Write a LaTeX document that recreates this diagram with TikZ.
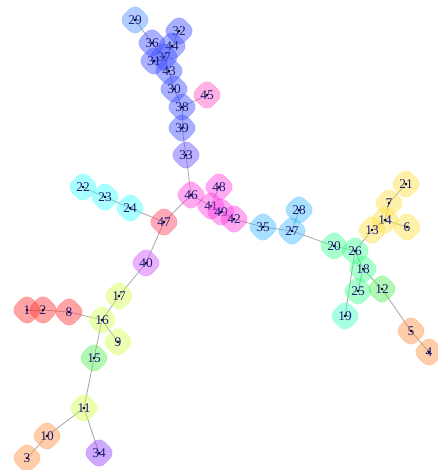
\documentclass[tikz,border=0pt]{standalone}
\usepackage{fontspec}
\setmainfont{Liberation Serif}
\usepackage{xcolor}
\definecolor{linkgray}{HTML}{A8A8A8}
\definecolor{labelblue}{HTML}{1C1C78}
\definecolor{sky}{HTML}{5191FF}
\definecolor{royal}{HTML}{4050FF}
\definecolor{periwinkle}{HTML}{6650FF}
\definecolor{rose}{HTML}{FF51C1}
\definecolor{orchid}{HTML}{FF41E1}
\definecolor{coral}{HTML}{FF4060}
\definecolor{scarlet}{HTML}{FF3535}
\definecolor{lilac}{HTML}{D151FF}
\definecolor{violet}{HTML}{9141FF}
\definecolor{aqua}{HTML}{41FFFF}
\definecolor{azure}{HTML}{41B9FF}
\definecolor{mint}{HTML}{41FF91}
\definecolor{jade}{HTML}{41FFC1}
\definecolor{leaf}{HTML}{55F055}
\definecolor{lemon}{HTML}{FFE141}
\definecolor{lime}{HTML}{D5FF51}
\definecolor{peach}{HTML}{FF9141}
\usepackage{tikz}
\usetikzlibrary{
  shapes.geometric,
  backgrounds
}

\begin{document}
\begin{tikzpicture}[
  x=0.75pt, y=-0.75pt,
  vtx/.style={diamond, rounded corners=6pt, minimum size=25pt, inner sep=0pt, fill=#1, fill opacity=0.45, draw=#1, draw opacity=0.25, line width=0.4pt, text opacity=1, text=labelblue, font=\fontsize{10}{10}\selectfont,
    path picture={\fill[black, fill opacity=1] (path picture bounding box.center) circle (1pt);}},
  link/.style={linkgray, line width=0.6pt},
]
\useasboundingbox (0,0) rectangle (437,470);

% Top branch
\node[vtx=sky] (n29) at (135,20) {29};
\node[vtx=royal] (n32) at (179,31) {32};
\node[vtx=royal] (n36) at (152,43) {36};
\node[vtx=royal] (n44) at (172,46) {44};
\node[vtx=royal] (n37) at (164,57) {37};
\node[vtx=royal] (n31) at (154,61) {31};
\node[vtx=royal] (n43) at (169,71) {43};
\node[vtx=royal] (n30) at (174,89) {30};
\node[vtx=rose] (n45) at (207,95) {45};
\node[vtx=royal] (n38) at (182,107) {38};
\node[vtx=royal] (n39) at (182,128) {39};
\node[vtx=periwinkle] (n33) at (186,155) {33};

% Middle
\node[vtx=orchid] (n46) at (191,195) {46};
\node[vtx=orchid] (n48) at (219,187) {48};
\node[vtx=orchid] (n41) at (211,206) {41};
\node[vtx=orchid] (n49) at (221,212) {49};
\node[vtx=orchid] (n42) at (234,219) {42};
\node[vtx=coral] (n47) at (164,222) {47};
\node[vtx=aqua] (n22) at (83,187) {22};
\node[vtx=aqua] (n23) at (105,197) {23};
\node[vtx=aqua] (n24) at (130,208) {24};
\node[vtx=azure] (n35) at (263,227) {35};
\node[vtx=azure] (n28) at (299,210) {28};
\node[vtx=azure] (n27) at (292,231) {27};

% Right branch
\node[vtx=mint] (n20) at (334,246) {20};
\node[vtx=mint] (n26) at (355,251) {26};
\node[vtx=lemon] (n21) at (406,184) {21};
\node[vtx=lemon] (n7) at (389,203) {7};
\node[vtx=lemon] (n14) at (385,220) {14};
\node[vtx=lemon] (n6) at (407,227) {6};
\node[vtx=lemon] (n13) at (372,230) {13};
\node[vtx=mint] (n18) at (363,269) {18};
\node[vtx=mint] (n25) at (358,291) {25};
\node[vtx=leaf] (n12) at (382,289) {12};
\node[vtx=jade] (n19) at (345,316) {19};
\node[vtx=peach] (n5) at (411,331) {5};
\node[vtx=peach] (n4) at (429,352) {4};

% Left branch
\node[vtx=lilac] (n40) at (146,263) {40};
\node[vtx=lime] (n17) at (119,296) {17};
\node[vtx=lime] (n16) at (102,320) {16};
\node[vtx=scarlet] (n1) at (27,310) {1};
\node[vtx=scarlet] (n2) at (43,310) {2};
\node[vtx=scarlet] (n8) at (69,312) {8};
\node[vtx=lime] (n9) at (118,342) {9};
\node[vtx=leaf] (n15) at (94,358) {15};
\node[vtx=lime] (n11) at (84,408) {11};
\node[vtx=peach] (n10) at (47,436) {10};
\node[vtx=peach] (n3) at (27,458) {3};
\node[vtx=violet] (n34) at (99,453) {34};

\begin{scope}[on background layer]
\draw[link] (n29.center) -- (n36.center);
\draw[link] (n36.center) -- (n37.center);
\draw[link] (n32.center) -- (n44.center);
\draw[link] (n44.center) -- (n37.center);
\draw[link] (n31.center) -- (n37.center);
\draw[link] (n37.center) -- (n43.center);
\draw[link] (n43.center) -- (n30.center);
\draw[link] (n30.center) -- (n38.center);
\draw[link] (n45.center) -- (n38.center);
\draw[link] (n38.center) -- (n39.center);
\draw[link] (n39.center) -- (n33.center);
\draw[link] (n33.center) -- (n46.center);
\draw[link] (n46.center) -- (n47.center);
\draw[link] (n46.center) -- (n41.center);
\draw[link] (n48.center) -- (n41.center);
\draw[link] (n41.center) -- (n49.center);
\draw[link] (n49.center) -- (n42.center);
\draw[link] (n42.center) -- (n35.center);
\draw[link] (n35.center) -- (n27.center);
\draw[link] (n28.center) -- (n27.center);
\draw[link] (n27.center) -- (n20.center);
\draw[link] (n20.center) -- (n26.center);
\draw[link] (n26.center) -- (n13.center);
\draw[link] (n13.center) -- (n14.center);
\draw[link] (n14.center) -- (n7.center);
\draw[link] (n7.center) -- (n21.center);
\draw[link] (n14.center) -- (n6.center);
\draw[link] (n26.center) -- (n18.center);
\draw[link] (n18.center) -- (n25.center);
\draw[link] (n18.center) -- (n12.center);
\draw[link] (n12.center) -- (n5.center);
\draw[link] (n5.center) -- (n4.center);
\draw[link] (n26.center) -- (n19.center);
\draw[link] (n47.center) -- (n24.center);
\draw[link] (n24.center) -- (n23.center);
\draw[link] (n23.center) -- (n22.center);
\draw[link] (n47.center) -- (n40.center);
\draw[link] (n40.center) -- (n17.center);
\draw[link] (n17.center) -- (n16.center);
\draw[link] (n16.center) -- (n8.center);
\draw[link] (n8.center) -- (n2.center);
\draw[link] (n2.center) -- (n1.center);
\draw[link] (n16.center) -- (n9.center);
\draw[link] (n16.center) -- (n15.center);
\draw[link] (n15.center) -- (n11.center);
\draw[link] (n11.center) -- (n10.center);
\draw[link] (n10.center) -- (n3.center);
\draw[link] (n11.center) -- (n34.center);
\end{scope}

\end{tikzpicture}
\end{document}
